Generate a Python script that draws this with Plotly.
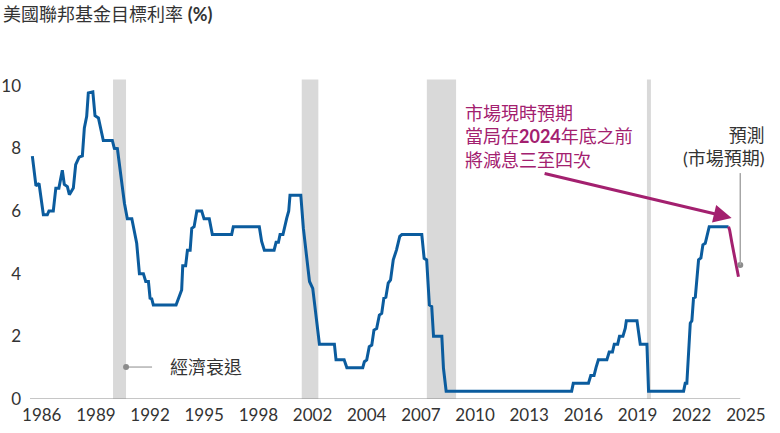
import plotly.graph_objects as go

# Fed funds target rate (decimal years)
rate_dates = [
    1986.03, 1986.23, 1986.40, 1986.64, 1986.86, 1986.95, 1987.19, 1987.33, 1987.50,
    1987.69, 1987.80, 1987.97, 1988.08, 1988.30, 1988.43, 1988.62, 1988.80, 1988.91,
    1989.04, 1989.13, 1989.38, 1989.50, 1989.69, 1989.96, 1990.46, 1990.57, 1990.74,
    1991.13, 1991.29, 1991.54, 1991.81, 1991.96, 1992.18, 1992.31, 1992.46, 1992.55,
    1992.64, 1992.73, 1993.99, 1994.30, 1994.36, 1994.52, 1994.62, 1994.77, 1994.86,
    1994.99, 1995.14, 1995.41, 1995.54, 1995.83, 1996.00, 1997.07, 1997.16, 1998.60,
    1998.73, 1998.88, 1999.42, 1999.53, 1999.66, 1999.75, 1999.91, 2000.00, 2000.12,
    2000.23, 2000.30, 2000.90, 2001.04, 2001.38, 2001.56, 2001.93, 2002.76, 2002.85,
    2003.30, 2003.45, 2004.33, 2004.42, 2004.55, 2004.69, 2004.83, 2004.95, 2005.10,
    2005.25, 2005.38, 2005.50, 2005.61, 2005.74, 2005.87, 2006.02, 2006.20, 2006.38,
    2006.50, 2007.60, 2007.73, 2007.87, 2008.02, 2008.15, 2008.25, 2008.71, 2008.80,
    2008.95, 2015.90, 2015.99, 2016.83, 2016.96, 2017.14, 2017.25, 2017.38, 2017.85,
    2017.98, 2018.16, 2018.26, 2018.45, 2018.55, 2018.74, 2018.87, 2018.93, 2019.52,
    2019.70, 2020.07, 2020.16, 2022.10, 2022.19, 2022.28, 2022.47, 2022.56, 2022.65,
    2022.75, 2022.93, 2023.06, 2023.17, 2023.30, 2023.52, 2024.59,
]
rate_values = [
    7.75, 6.80, 6.88, 5.88, 5.88, 6.00, 6.00, 6.73, 6.73,
    7.30, 6.85, 6.78, 6.52, 6.73, 7.48, 7.72, 7.76, 8.65,
    9.02, 9.77, 9.80, 9.04, 8.97, 8.25, 8.25, 8.00, 7.99,
    6.25, 5.75, 5.75, 4.97, 4.00, 4.00, 3.75, 3.75, 3.22,
    3.20, 3.00, 3.00, 3.48, 4.25, 4.25, 4.75, 4.75, 5.45,
    5.50, 6.00, 6.00, 5.75, 5.75, 5.25, 5.25, 5.50, 5.50,
    5.03, 4.75, 4.75, 5.00, 5.00, 5.25, 5.25, 5.50, 5.77,
    6.00, 6.50, 6.50, 5.45, 3.75, 3.53, 1.75, 1.75, 1.25,
    1.25, 1.00, 1.00, 1.19, 1.25, 1.67, 1.72, 2.20, 2.25,
    2.68, 2.73, 3.22, 3.25, 3.70, 3.80, 4.44, 4.76, 5.19,
    5.25, 5.25, 4.49, 4.44, 3.00, 2.95, 2.00, 2.00, 0.98,
    0.25, 0.25, 0.50, 0.50, 0.75, 0.75, 1.00, 1.25, 1.25,
    1.50, 1.50, 1.75, 1.75, 2.00, 2.00, 2.26, 2.50, 2.50,
    1.75, 1.75, 0.25, 0.25, 0.50, 0.50, 2.42, 2.50, 3.22,
    3.25, 4.44, 4.50, 4.92, 4.97, 5.50, 5.50,
]

# market-implied path (forecast)
forecast_dates = [2024.59, 2024.65, 2024.78, 2024.96, 2025.14]
forecast_values = [5.50, 5.39, 4.97, 4.43, 3.90]

# recessions
recession_start = [1990.50, 2000.95, 2007.88, 2020.07]
recession_end = [1991.22, 2001.87, 2009.50, 2020.29]

tick_labels = ["1986", "1989", "1992", "1995", "1998", "2002", "2004",
               "2007", "2010", "2013", "2016", "2019", "2022", "2025"]
tick_positions = [1986.55 + 3 * i for i in range(len(tick_labels))]

BLUE = "#0b5c9e"
MAGENTA = "#a3206f"
GREY_TEXT = "#333333"
FONT = "Lato, 'Noto Sans CJK TC', sans-serif"

fig = go.Figure()

for start, end in zip(recession_start, recession_end):
    fig.add_shape(type="rect", x0=start, x1=end, y0=0, y1=10.2,
                  fillcolor="#d9d9d9", line_width=0, layer="below")

# baseline
fig.add_shape(type="line", x0=1985.9, x1=2025.24, y0=0, y1=0,
              line=dict(color="#8c8c8c", width=1))

fig.add_trace(go.Scatter(
    x=rate_dates, y=rate_values, mode="lines",
    line=dict(color=BLUE, width=3), hoverinfo="skip",
))
fig.add_trace(go.Scatter(
    x=forecast_dates, y=forecast_values, mode="lines",
    line=dict(color=MAGENTA, width=3), hoverinfo="skip",
))

# forecast callout
fig.add_shape(type="line", x0=2025.24, x1=2025.24, y0=4.28, y1=7.21,
              line=dict(color="#a6a6a6", width=1.5))
fig.add_trace(go.Scatter(
    x=[2025.24], y=[4.28], mode="markers",
    marker=dict(color="#8c8c8c", size=6), hoverinfo="skip",
))
fig.add_annotation(
    x=1.018, xref="paper", y=7.27, yref="y", xanchor="right", yanchor="bottom",
    text="預測<br>(市場預期)", align="right", showarrow=False,
    font=dict(size=18, color=GREY_TEXT, family=FONT),
)

# recession callout
fig.add_shape(type="line", x0=1991.22, x1=1992.66, y0=1.02, y1=1.02,
              line=dict(color="#8c8c8c", width=1))
fig.add_trace(go.Scatter(
    x=[1991.22], y=[1.02], mode="markers",
    marker=dict(color="#8c8c8c", size=6), hoverinfo="skip",
))
fig.add_annotation(
    x=1993.55, y=1.02, xanchor="left", yanchor="middle",
    text="經濟衰退", showarrow=False,
    font=dict(size=18, color=GREY_TEXT, family=FONT),
)

# market expectation arrow + text
fig.add_annotation(
    x=2024.76, y=5.78, ax=2014.32, ay=7.21, axref="x", ayref="y",
    text="", showarrow=True, arrowhead=2, arrowsize=1.2, arrowwidth=3,
    arrowcolor=MAGENTA,
)
fig.add_annotation(
    x=2009.89, y=9.55, xanchor="left", yanchor="top", align="left",
    text="市場現時預期<br>當局在<b>2024</b>年底之前<br>將減息三至四次",
    showarrow=False, font=dict(size=18, color=MAGENTA, family=FONT),
)

fig.update_layout(
    width=780, height=433,
    margin=dict(l=30, r=26, t=70, b=34),
    paper_bgcolor="white", plot_bgcolor="white",
    showlegend=False,
    font=dict(family=FONT, color=GREY_TEXT, size=17),
    title=dict(
        text="美國聯邦基金目標利率 <b>(%)</b>",
        x=0.004, xanchor="left", y=0.965, yanchor="middle",
        font=dict(size=18, color=GREY_TEXT, family=FONT),
    ),
    xaxis=dict(
        range=[1985.9, 2026.0], showgrid=False, zeroline=False, showline=False,
        tickmode="array", tickvals=tick_positions, ticktext=tick_labels,
        ticks="", ticklabelstandoff=4, automargin=False,
        tickfont=dict(size=17, color=GREY_TEXT),
    ),
    yaxis=dict(
        range=[0, 10.5], showgrid=False, zeroline=False, showline=False,
        tickmode="array", tickvals=[0, 2, 4, 6, 8, 10], automargin=False,
        ticks="", ticklabelstandoff=8, tickfont=dict(size=17, color=GREY_TEXT),
    ),
)

# drop the default page margin so the figure sits at the window's corner
fig.write_html(
    "out.html",
    config={"displayModeBar": False},
    post_script="document.body.style.margin='0';",
)
